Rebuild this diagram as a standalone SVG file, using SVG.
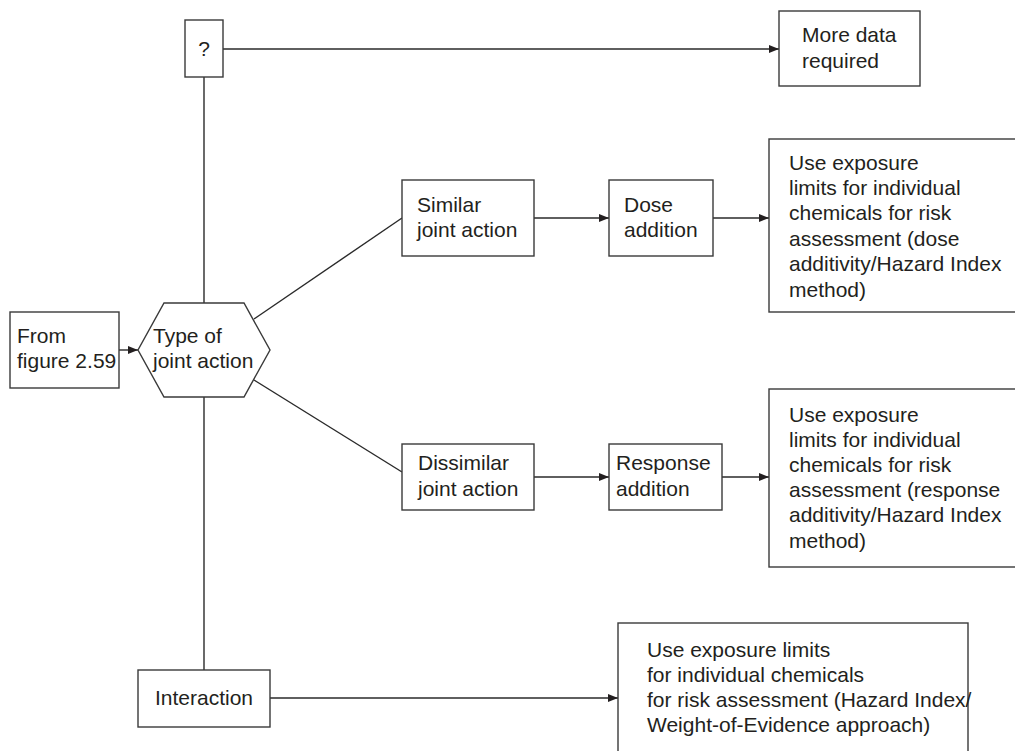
<svg xmlns="http://www.w3.org/2000/svg" width="1015" height="751" viewBox="0 0 1015 751">
  <style>
    .box { fill: #ffffff; stroke: #3a3a3a; stroke-width: 1.4; }
    .link { fill: none; stroke: #2a2a2a; stroke-width: 1.4; }
    .arrow { fill: none; stroke: #2a2a2a; stroke-width: 1.4; marker-end: url(#head); }
    text { font-family: "Liberation Sans", Arial, Helvetica, sans-serif; font-size: 21px; fill: #231f20; }
  </style>
  <defs>
    <marker id="head" viewBox="0 0 10 8" refX="10" refY="4" markerWidth="10" markerHeight="8" markerUnits="userSpaceOnUse" orient="auto">
      <path d="M0,0 L10,4 L0,8 Z" fill="#231f20"/>
    </marker>
  </defs>
  <rect width="1015" height="751" fill="#ffffff"/>

  <!-- connectors -->
  <g id="connectors">
    <line class="link" x1="204" y1="77" x2="204" y2="303"/>
    <line class="link" x1="204" y1="397" x2="204" y2="670"/>
    <line class="arrow" x1="223" y1="49" x2="779" y2="49"/>
    <line class="arrow" x1="119" y1="350" x2="138" y2="350"/>
    <line class="link" x1="254" y1="319" x2="402" y2="218"/>
    <line class="link" x1="254" y1="380" x2="402" y2="472"/>
    <line class="arrow" x1="534" y1="218" x2="609" y2="218"/>
    <line class="arrow" x1="713" y1="218" x2="769" y2="218"/>
    <line class="arrow" x1="534" y1="477" x2="609" y2="477"/>
    <line class="arrow" x1="722" y1="477" x2="769" y2="477"/>
    <line class="arrow" x1="270" y1="698" x2="618" y2="698"/>
  </g>

  <!-- nodes -->
  <g id="unknown">
    <rect class="box" x="185" y="20" width="38" height="57"/>
    <text x="204" y="56" text-anchor="middle">?</text>
  </g>

  <g id="more-data">
    <rect class="box" x="779" y="11" width="141" height="75"/>
    <text x="802" y="42">More data</text>
    <text x="802" y="68">required</text>
  </g>

  <g id="from-figure">
    <rect class="box" x="10" y="312" width="109" height="76"/>
    <text x="17" y="343">From</text>
    <text x="17" y="368">figure 2.59</text>
  </g>

  <g id="type-of-joint-action">
    <polygon class="box" points="164,303 244,303 270,350 244,397 164,397 138,350"/>
    <text x="153" y="343">Type of</text>
    <text x="153" y="368">joint action</text>
  </g>

  <g id="similar">
    <rect class="box" x="402" y="180" width="132" height="76"/>
    <text x="417" y="212">Similar</text>
    <text x="417" y="237">joint action</text>
  </g>

  <g id="dose-addition">
    <rect class="box" x="609" y="180" width="104" height="76"/>
    <text x="624" y="212">Dose</text>
    <text x="624" y="237">addition</text>
  </g>

  <g id="dose-limits">
    <rect class="box" x="769" y="139" width="260" height="173"/>
    <text x="789" y="170">Use exposure</text>
    <text x="789" y="195">limits for individual</text>
    <text x="789" y="220">chemicals for risk</text>
    <text x="789" y="246">assessment (dose</text>
    <text x="789" y="271">additivity/Hazard Index</text>
    <text x="789" y="297">method)</text>
  </g>

  <g id="dissimilar">
    <rect class="box" x="402" y="444" width="132" height="66"/>
    <text x="418" y="470">Dissimilar</text>
    <text x="418" y="496">joint action</text>
  </g>

  <g id="response-addition">
    <rect class="box" x="609" y="444" width="113" height="66"/>
    <text x="616" y="470">Response</text>
    <text x="616" y="496">addition</text>
  </g>

  <g id="response-limits">
    <rect class="box" x="769" y="389" width="260" height="178"/>
    <text x="789" y="422">Use exposure</text>
    <text x="789" y="447">limits for individual</text>
    <text x="789" y="472">chemicals for risk</text>
    <text x="789" y="497">assessment (response</text>
    <text x="789" y="522">additivity/Hazard Index</text>
    <text x="789" y="548">method)</text>
  </g>

  <g id="interaction">
    <rect class="box" x="138" y="670" width="132" height="57"/>
    <text x="204" y="705" text-anchor="middle">Interaction</text>
  </g>

  <g id="interaction-limits">
    <rect class="box" x="618" y="623" width="350" height="140"/>
    <text x="647" y="657">Use exposure limits</text>
    <text x="647" y="682">for individual chemicals</text>
    <text x="647" y="707">for risk assessment (Hazard Index/</text>
    <text x="647" y="732">Weight-of-Evidence approach)</text>
  </g>
</svg>
